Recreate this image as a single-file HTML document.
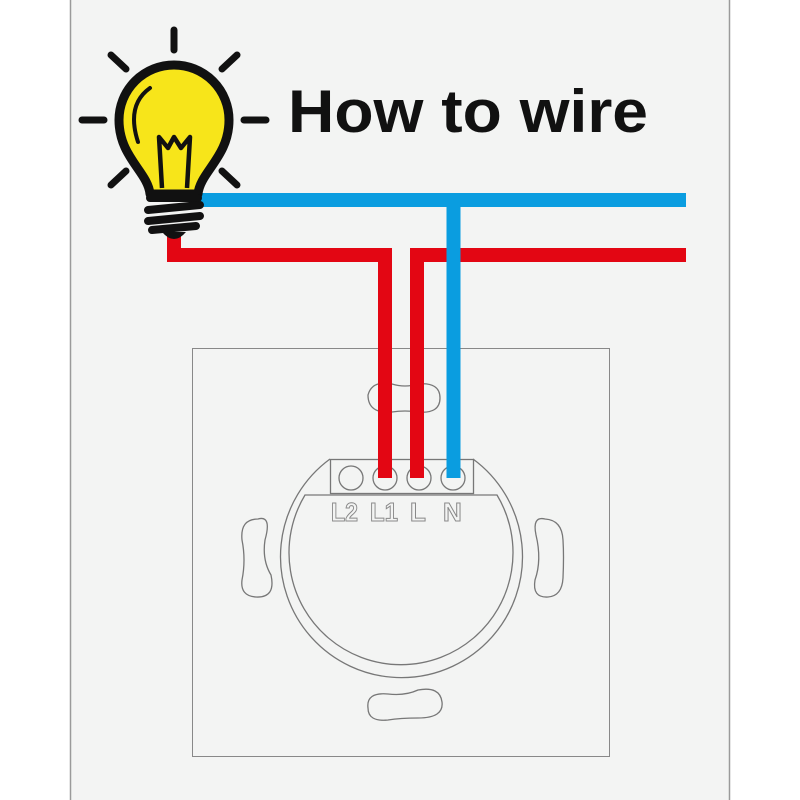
<!DOCTYPE html>
<html><head><style>
html,body{margin:0;padding:0;background:#fff;}
svg{display:block}
</style></head><body>
<svg width="800" height="800" viewBox="0 0 800 800" xmlns="http://www.w3.org/2000/svg">
<rect x="70" y="0" width="660" height="800" fill="#f3f4f3"/>
<line x1="70.5" y1="0" x2="70.5" y2="800" stroke="#9a9a9a" stroke-width="1.5"/>
<line x1="729.5" y1="0" x2="729.5" y2="800" stroke="#9a9a9a" stroke-width="1.5"/>

<rect x="192.5" y="348.5" width="417" height="408" fill="none" stroke="#888" stroke-width="1"/>
<path d="M330 459 A121 121 0 1 0 473 459" fill="none" stroke="#777" stroke-width="1.3"/>
<path d="M305 495 A112 112 0 1 0 497 495 Z" fill="none" stroke="#777" stroke-width="1.3"/>
<rect x="330.5" y="459.5" width="143" height="34" fill="none" stroke="#777" stroke-width="1.3"/>
<g fill="none" stroke="#777" stroke-width="1.3">
<circle cx="351" cy="478" r="12"/><circle cx="385" cy="478" r="12"/><circle cx="419" cy="478" r="12"/><circle cx="453" cy="478" r="12"/>
<path d="M368 395 Q372 380 392 384 Q405 388 418 384 Q440 382 440 398 Q440 414 418 412 Q405 410 392 412 Q368 414 368 395 Z"/>
<path d="M368 708 Q366 692 388 694 Q405 696 418 690 Q440 686 442 702 Q444 718 418 718 Q400 718 388 720 Q368 722 368 708 Z"/>
<path d="M258 519 Q272 515 265 540 Q262 560 271 575 Q276 598 256 597 Q240 596 242 580 Q246 560 242 540 Q240 519 258 519 Z"/>
<path d="M545 519 Q532 516 536 535 Q542 560 535 580 Q532 598 548 597 Q562 596 563 578 Q564 556 563 540 Q562 520 545 519 Z"/>
</g>
<g font-family="Liberation Sans, sans-serif" font-weight="bold" font-size="26" fill="#f3f4f3" stroke="#888" stroke-width="1">
<text x="331" y="521" textLength="27" lengthAdjust="spacingAndGlyphs">L2</text>
<text x="370" y="521" textLength="28" lengthAdjust="spacingAndGlyphs">L1</text>
<text x="410" y="521">L</text>
<text x="443" y="521">N</text>
</g>

<g fill="none" stroke="#e30613" stroke-width="14">
<polyline points="174,234 174,255 385,255 385,478"/>
<polyline points="686,255 417,255 417,478"/>
</g>
<g fill="none" stroke="#0a9de0" stroke-width="14">
<line x1="200" y1="200" x2="686" y2="200"/>
<line x1="453.5" y1="193" x2="453.5" y2="478"/>
</g>

<g stroke="#111" stroke-width="7" stroke-linecap="round">
<line x1="174" y1="30" x2="174" y2="50"/>
<line x1="111" y1="55" x2="126" y2="69"/>
<line x1="237" y1="55" x2="222" y2="69"/>
<line x1="82" y1="120" x2="104" y2="120"/>
<line x1="244" y1="120" x2="266" y2="120"/>
<line x1="111" y1="185" x2="126" y2="171"/>
<line x1="237" y1="185" x2="222" y2="171"/>
</g>
<path d="M150 194 C148 172 119 157 119 120 A55 55 0 1 1 229 120 C229 157 200 172 198 194 Z" fill="#f7e51a" stroke="#111" stroke-width="9" stroke-linejoin="round"/>
<path d="M138 142 Q126 105 150 88" fill="none" stroke="#111" stroke-width="4" stroke-linecap="round"/>
<path d="M162 188 L159 137 L168 148 L174 137 L181 148 L190 137 L187 188" fill="none" stroke="#111" stroke-width="4.5" stroke-linejoin="round"/>
<g stroke="#111" stroke-width="8" stroke-linecap="round">
<line x1="150" y1="198" x2="198" y2="198"/>
<line x1="148" y1="210" x2="200" y2="205"/>
<line x1="148" y1="221" x2="200" y2="216"/>
<line x1="152" y1="230" x2="196" y2="226"/>
</g>
<path d="M162 232 Q174 246 186 232" fill="#111"/>

<text x="288" y="132" font-family="Liberation Sans, sans-serif" font-weight="bold" font-size="60" fill="#111" textLength="360" lengthAdjust="spacingAndGlyphs">How to wire</text>
</svg>
</body></html>
